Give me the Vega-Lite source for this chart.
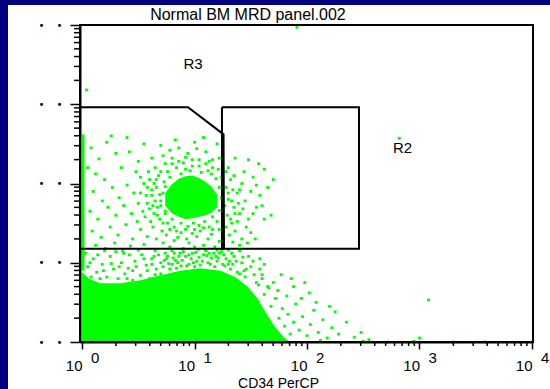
{
  "$schema": "https://vega.github.io/schema/vega-lite/v6.json",
  "autosize": {"type": "none"},
  "width": 453,
  "height": 317,
  "padding": {"left": 80, "top": 25, "right": 17, "bottom": 47},
  "background": "#000080",
  "config": {"view": {"stroke": null}, "font": "Liberation Sans", "axis": {"labelOverlap": false}},
  "datasets": {
    "blob": [
      {"x": 0.0, "top": 0.88}, {"x": 0.06, "top": 0.8}, {"x": 0.16, "top": 0.74}, {"x": 0.34, "top": 0.74},
      {"x": 0.52, "top": 0.78}, {"x": 0.69, "top": 0.84}, {"x": 0.87, "top": 0.9}, {"x": 1.05, "top": 0.93},
      {"x": 1.23, "top": 0.9}, {"x": 1.36, "top": 0.82}, {"x": 1.47, "top": 0.7}, {"x": 1.56, "top": 0.55},
      {"x": 1.63, "top": 0.38}, {"x": 1.71, "top": 0.2}, {"x": 1.8, "top": 0.05}, {"x": 1.85, "top": 0.0}
    ],
    "core": [
      {"x": 0.74, "hi": 1.88, "lo": 1.72}, {"x": 0.8, "hi": 1.99, "lo": 1.62}, {"x": 0.86, "hi": 2.06, "lo": 1.58},
      {"x": 0.92, "hi": 2.09, "lo": 1.55}, {"x": 0.98, "hi": 2.1, "lo": 1.56}, {"x": 1.04, "hi": 2.07, "lo": 1.58},
      {"x": 1.1, "hi": 2.02, "lo": 1.6}, {"x": 1.15, "hi": 1.96, "lo": 1.63}, {"x": 1.2, "hi": 1.86, "lo": 1.7}
    ],
    "streak": [{"x": 0.0, "x2": 0.022, "y": 0.9, "y2": 2.62}],
    "minors": [
      {"v":0.30103},{"v":0.47712},{"v":0.60206},{"v":0.69897},{"v":0.77815},{"v":0.8451},{"v":0.90309},{"v":0.95424},
      {"v":1.30103},{"v":1.47712},{"v":1.60206},{"v":1.69897},{"v":1.77815},{"v":1.8451},{"v":1.90309},{"v":1.95424},
      {"v":2.30103},{"v":2.47712},{"v":2.60206},{"v":2.69897},{"v":2.77815},{"v":2.8451},{"v":2.90309},{"v":2.95424},
      {"v":3.30103},{"v":3.47712},{"v":3.60206},{"v":3.69897},{"v":3.77815},{"v":3.8451},{"v":3.90309},{"v":3.95424}
    ],
    "dots": [
      {"x":0.08,"y":2.45},{"x":0.15,"y":2.31},{"x":0.22,"y":2.52},{"x":0.3,"y":2.38},{"x":0.12,"y":2.12},{"x":0.2,"y":2.05},{"x":0.35,"y":2.2},{"x":0.42,"y":2.4},{"x":0.5,"y":2.28},{"x":0.55,"y":2.5},{"x":0.1,"y":1.9},{"x":0.18,"y":1.78},{"x":0.27,"y":1.95},{"x":0.33,"y":1.82},{"x":0.4,"y":1.98},{"x":0.46,"y":1.88},{"x":0.52,"y":2.08},{"x":0.58,"y":1.95},{"x":0.07,"y":1.65},{"x":0.14,"y":1.55},{"x":0.23,"y":1.7},{"x":0.3,"y":1.6},{"x":0.37,"y":1.72},{"x":0.44,"y":1.62},{"x":0.5,"y":1.75},{"x":0.56,"y":1.58},{"x":0.6,"y":1.68},{"x":0.09,"y":1.4},{"x":0.17,"y":1.32},{"x":0.25,"y":1.45},{"x":0.32,"y":1.35},{"x":0.39,"y":1.48},{"x":0.45,"y":1.3},{"x":0.52,"y":1.42},{"x":0.58,"y":1.33},{"x":0.12,"y":1.22},{"x":0.21,"y":1.18},{"x":0.29,"y":1.25},{"x":0.36,"y":1.15},{"x":0.43,"y":1.21},{"x":0.49,"y":1.52},{"x":0.55,"y":1.23},{"x":0.62,"y":2.32},{"x":0.05,"y":2.2},{"x":0.26,"y":2.6},{"x":0.4,"y":2.58},{"x":0.48,"y":2.15},
      {"x":0.65,"y":2.2},{"x":0.72,"y":2.35},{"x":0.8,"y":2.25},{"x":0.86,"y":2.45},{"x":0.92,"y":2.18},{"x":0.98,"y":2.3},{"x":1.04,"y":2.22},{"x":1.1,"y":2.4},{"x":1.16,"y":2.2},{"x":1.22,"y":2.32},{"x":1.28,"y":2.15},{"x":0.76,"y":2.15},{"x":0.88,"y":2.12},{"x":1.0,"y":2.52},{"x":1.06,"y":2.14},{"x":1.13,"y":2.28},{"x":0.7,"y":2.48},{"x":0.94,"y":2.38},{"x":1.2,"y":2.5},{"x":0.83,"y":2.55},{"x":1.08,"y":2.58},{"x":0.68,"y":2.1},{"x":1.25,"y":2.25},{"x":0.9,"y":2.26},{"x":1.02,"y":2.44},{"x":0.78,"y":2.42},{"x":1.15,"y":2.12},
      {"x":0.84,"y":2.2},{"x":0.96,"y":2.16},{"x":1.12,"y":2.16},{"x":1.19,"y":2.06},{"x":1.22,"y":1.95},{"x":1.18,"y":1.78},{"x":1.22,"y":1.66},{"x":1.16,"y":1.58},{"x":1.09,"y":1.52},{"x":0.99,"y":1.5},{"x":0.88,"y":1.5},{"x":0.8,"y":1.55},{"x":0.74,"y":1.62},{"x":0.7,"y":1.72},{"x":0.69,"y":1.86},{"x":0.74,"y":1.96},{"x":0.78,"y":2.08},{"x":0.65,"y":1.78},{"x":0.82,"y":1.45},{"x":0.94,"y":1.46},{"x":1.04,"y":1.47},{"x":1.13,"y":1.45},{"x":1.2,"y":1.52},{"x":0.76,"y":1.5},{"x":0.64,"y":2.0},{"x":1.24,"y":1.82},
      {"x":0.58,"y":1.75},{"x":0.62,"y":1.92},{"x":0.66,"y":2.05},{"x":0.7,"y":2.15},{"x":0.74,"y":2.25},{"x":0.8,"y":2.32},{"x":0.86,"y":2.28},{"x":0.92,"y":2.33},{"x":0.98,"y":2.22},{"x":1.04,"y":2.3},{"x":1.1,"y":2.25},{"x":1.16,"y":2.3},{"x":1.21,"y":2.18},{"x":1.24,"y":2.08},{"x":1.3,"y":1.88},{"x":1.33,"y":1.78},{"x":1.36,"y":1.62},{"x":1.32,"y":1.55},{"x":1.28,"y":1.45},{"x":1.22,"y":1.42},{"x":1.16,"y":1.42},{"x":1.08,"y":1.44},{"x":1.0,"y":1.42},{"x":0.92,"y":1.42},{"x":0.84,"y":1.4},{"x":0.78,"y":1.42},{"x":0.72,"y":1.5},{"x":0.67,"y":1.6},{"x":0.63,"y":1.72},{"x":0.57,"y":1.85},{"x":0.55,"y":2.0},{"x":0.59,"y":2.15},{"x":0.54,"y":1.65},{"x":0.52,"y":1.88},
      {"x":1.35,"y":2.1},{"x":1.4,"y":1.92},{"x":1.43,"y":1.68},{"x":1.38,"y":1.52},{"x":1.46,"y":1.45},{"x":1.52,"y":1.62},{"x":1.55,"y":1.98},{"x":1.6,"y":1.72},{"x":1.68,"y":1.6},{"x":1.7,"y":2.05},{"x":1.62,"y":2.18},{"x":1.48,"y":2.3},{"x":1.36,"y":2.32},{"x":1.4,"y":1.22},{"x":1.54,"y":1.3},{"x":1.34,"y":1.26},
      {"x":0.62,"y":1.85},{"x":0.66,"y":1.95},{"x":0.7,"y":1.78},{"x":0.64,"y":1.62},{"x":0.69,"y":1.55},{"x":0.73,"y":2.02},{"x":0.6,"y":2.05},{"x":0.67,"y":1.7},{"x":0.63,"y":1.45},{"x":0.71,"y":1.4},{"x":0.74,"y":1.65},{"x":0.66,"y":1.3},{"x":0.61,"y":1.52},{"x":0.72,"y":1.88},
      {"x":1.28,"y":1.95},{"x":1.3,"y":1.8},{"x":1.32,"y":2.05},{"x":1.35,"y":1.7},{"x":1.29,"y":1.6},{"x":1.38,"y":1.88},{"x":1.42,"y":2.0},{"x":1.33,"y":1.5},{"x":1.4,"y":1.62},{"x":1.45,"y":1.78},{"x":1.5,"y":1.9},{"x":1.36,"y":1.4},{"x":1.48,"y":1.55},{"x":1.55,"y":1.7},{"x":1.3,"y":2.2},{"x":1.44,"y":2.15},{"x":1.52,"y":2.08},{"x":1.58,"y":1.85},{"x":1.31,"y":1.35},{"x":1.42,"y":1.3},{"x":1.5,"y":1.38},{"x":1.62,"y":1.55},{"x":1.27,"y":1.72},{"x":1.34,"y":1.92},{"x":1.39,"y":1.75},{"x":1.57,"y":2.25},{"x":1.65,"y":1.95},{"x":1.47,"y":1.25},
      {"x":0.75,"y":1.35},{"x":0.82,"y":1.28},{"x":0.88,"y":1.38},{"x":0.95,"y":1.25},{"x":1.02,"y":1.33},{"x":1.08,"y":1.22},{"x":1.15,"y":1.36},{"x":1.22,"y":1.27},{"x":0.78,"y":1.2},{"x":0.9,"y":1.18},{"x":1.0,"y":1.2},{"x":1.12,"y":1.3},{"x":1.18,"y":1.2},{"x":0.85,"y":1.32},{"x":0.98,"y":1.37},{"x":1.05,"y":1.4},{"x":1.25,"y":1.38},{"x":0.72,"y":1.25},{"x":0.93,"y":1.3},{"x":1.1,"y":1.16},
      {"x":0.05,"y":0.95},{"x":0.1,"y":1.05},{"x":0.13,"y":0.88},{"x":0.18,"y":0.98},{"x":0.22,"y":0.82},{"x":0.25,"y":1.08},{"x":0.28,"y":0.92},{"x":0.32,"y":0.8},{"x":0.35,"y":1.0},{"x":0.38,"y":0.86},{"x":0.42,"y":1.1},{"x":0.45,"y":0.78},{"x":0.48,"y":0.95},{"x":0.52,"y":0.84},{"x":0.55,"y":1.05},{"x":0.58,"y":0.9},{"x":0.62,"y":0.98},{"x":0.65,"y":0.85},{"x":0.68,"y":1.1},{"x":0.72,"y":0.95},{"x":0.75,"y":1.05},{"x":0.78,"y":0.92},{"x":0.82,"y":1.12},{"x":0.85,"y":1.0},{"x":0.88,"y":0.96},{"x":0.92,"y":1.08},{"x":0.95,"y":0.98},{"x":0.98,"y":1.12},{"x":1.02,"y":1.02},{"x":1.05,"y":0.97},{"x":1.08,"y":1.1},{"x":1.12,"y":1.0},{"x":1.15,"y":1.06},{"x":1.18,"y":0.95},{"x":1.22,"y":1.12},{"x":1.25,"y":0.98},{"x":1.28,"y":1.05},{"x":1.32,"y":0.92},{"x":1.35,"y":1.08},{"x":1.38,"y":0.88},{"x":1.42,"y":1.0},{"x":1.45,"y":0.82},{"x":1.5,"y":0.95},{"x":1.55,"y":0.75},{"x":0.08,"y":0.82},{"x":0.16,"y":0.8},{"x":0.3,"y":1.14},{"x":0.4,"y":0.8},{"x":0.6,"y":0.8},{"x":0.7,"y":0.86},{"x":0.9,"y":1.14},{"x":1.0,"y":0.95},{"x":1.1,"y":1.15},{"x":1.2,"y":1.02},{"x":1.4,"y":1.15},{"x":1.48,"y":1.08},{"x":0.2,"y":1.15},{"x":0.5,"y":1.16},{"x":0.8,"y":0.98},{"x":1.3,"y":1.16},{"x":1.6,"y":0.85},{"x":1.58,"y":1.05},{"x":1.65,"y":0.7},{"x":0.03,"y":1.12},{"x":0.45,"y":0.9},{"x":0.65,"y":1.15},
      {"x":0.62,"y":1.05},{"x":0.66,"y":0.92},{"x":0.74,"y":1.12},{"x":0.77,"y":0.99},{"x":0.81,"y":1.06},{"x":0.84,"y":0.93},{"x":0.89,"y":1.03},{"x":0.93,"y":0.96},{"x":0.97,"y":1.05},{"x":1.01,"y":1.13},{"x":1.04,"y":1.07},{"x":1.07,"y":1.02},{"x":1.11,"y":1.09},{"x":1.14,"y":0.98},{"x":1.17,"y":1.12},{"x":1.21,"y":1.06},{"x":1.24,"y":1.14},{"x":1.27,"y":0.96},{"x":1.31,"y":1.02},{"x":1.34,"y":0.98},{"x":0.7,"y":1.0},{"x":0.86,"y":1.08},{"x":0.99,"y":1.0},{"x":1.19,"y":1.08},
      {"x":0.76,"y":1.08},{"x":0.8,"y":1.15},{"x":0.87,"y":1.12},{"x":0.95,"y":1.1},{"x":1.03,"y":1.17},{"x":1.13,"y":1.12},{"x":1.2,"y":1.16},{"x":1.26,"y":1.1},{"x":1.33,"y":1.12},{"x":1.37,"y":1.02},{"x":1.43,"y":1.07},{"x":1.46,"y":0.92},{"x":1.52,"y":1.02},{"x":1.53,"y":0.85},{"x":1.58,"y":0.92},{"x":1.62,"y":0.98},{"x":1.44,"y":0.9},{"x":1.4,"y":0.86},{"x":1.3,"y":0.98},{"x":0.83,"y":1.03},{"x":0.73,"y":1.03},{"x":0.64,"y":1.08},{"x":0.57,"y":0.97},{"x":0.53,"y":1.1},{"x":0.47,"y":1.02},{"x":0.41,"y":0.93},{"x":0.37,"y":1.12},{"x":0.33,"y":0.95},{"x":0.26,"y":0.99},{"x":0.19,"y":0.9},{"x":0.14,"y":1.1},{"x":0.07,"y":1.0},
      {"x":1.62,"y":0.6},{"x":1.68,"y":0.45},{"x":1.72,"y":0.55},{"x":1.75,"y":0.3},{"x":1.78,"y":0.42},{"x":1.8,"y":0.2},{"x":1.83,"y":0.35},{"x":1.85,"y":0.1},{"x":1.88,"y":0.25},{"x":1.9,"y":0.48},{"x":1.93,"y":0.15},{"x":1.96,"y":0.32},{"x":2.0,"y":0.08},{"x":2.03,"y":0.22},{"x":2.06,"y":0.4},{"x":2.1,"y":0.12},{"x":2.14,"y":0.28},{"x":2.18,"y":0.05},{"x":2.22,"y":0.18},{"x":2.28,"y":0.1},{"x":2.35,"y":0.25},{"x":2.42,"y":0.06},{"x":1.7,"y":0.75},{"x":1.66,"y":0.68},{"x":1.74,"y":0.65},{"x":1.82,"y":0.58},{"x":1.88,"y":0.7},{"x":1.95,"y":0.55},{"x":2.02,"y":0.62},{"x":1.6,"y":0.8},{"x":1.57,"y":0.72},{"x":2.08,"y":0.5},{"x":2.25,"y":0.38},{"x":1.98,"y":0.75},{"x":2.12,"y":0.02},{"x":2.48,"y":0.12},{"x":2.55,"y":0.03},{"x":1.86,"y":0.8},{"x":1.77,"y":0.85},{"x":2.2,"y":0.45},
      {"x":2.5,"y":0.01},{"x":2.72,"y":0.0},{"x":2.95,"y":0.01},{"x":3.3,"y":0.0},{"x":3.58,"y":0.0},
      {"x":1.91,"y":3.97},{"x":0.04,"y":3.18},{"x":2.82,"y":2.57},{"x":3.08,"y":0.53},{"x":3.0,"y":0.05}
    ],
    "gates": [
      {"gate": "R3", "o": 1, "x": -0.018, "y": 2.962}, {"gate": "R3", "o": 2, "x": 0.942, "y": 2.962},
      {"gate": "R3", "o": 3, "x": 1.258, "y": 2.62}, {"gate": "R3", "o": 4, "x": 1.262, "y": 1.177},
      {"gate": "R3", "o": 5, "x": -0.018, "y": 1.177},
      {"gate": "R2", "o": 1, "x": 1.244, "y": 2.962}, {"gate": "R2", "o": 2, "x": 2.462, "y": 2.962},
      {"gate": "R2", "o": 3, "x": 2.462, "y": 1.177}, {"gate": "R2", "o": 4, "x": 1.244, "y": 1.177},
      {"gate": "R2", "o": 5, "x": 1.244, "y": 2.962}
    ],
    "labels": [{"label": "R3", "x": 0.987, "y": 3.443}, {"label": "R2", "x": 2.849, "y": 2.38}],
    "heading": [{"text": "Normal BM MRD panel.002", "x": 1.475, "y": 4.063}],
    "exps": [{"e": 0}, {"e": 1}, {"e": 2}, {"e": 3}, {"e": 4}]
  },
  "layer": [
    {
      "data": {"values": [{}]},
      "mark": {"type": "rect", "fill": "white"},
      "encoding": {
        "x": {"datum": -0.658, "type": "quantitative", "scale": {"domain": [-0.018, 4.009], "nice": false, "zero": false}},
        "x2": {"datum": 5},
        "y": {"datum": -1, "type": "quantitative", "scale": {"domain": [0, 4], "nice": false, "zero": false}},
        "y2": {"datum": 4.253}
      }
    },
    {
      "data": {"name": "blob"},
      "mark": {"type": "area", "color": "#00ff00", "opacity": 1, "interpolate": "linear"},
      "encoding": {
        "x": {"field": "x", "type": "quantitative"},
        "y": {"field": "top", "type": "quantitative"},
        "y2": {"datum": 0}
      }
    },
    {
      "data": {"name": "core"},
      "mark": {"type": "area", "color": "#00ff00", "opacity": 1, "interpolate": "linear"},
      "encoding": {
        "x": {"field": "x", "type": "quantitative"},
        "y": {"field": "hi", "type": "quantitative"},
        "y2": {"field": "lo"}
      }
    },
    {
      "data": {"name": "streak"},
      "mark": {"type": "rect", "color": "#00ff00"},
      "encoding": {
        "x": {"field": "x", "type": "quantitative"},
        "x2": {"field": "x2"},
        "y": {"field": "y", "type": "quantitative"},
        "y2": {"field": "y2"}
      }
    },
    {
      "data": {"name": "dots"},
      "mark": {"type": "point", "shape": "square", "filled": true, "size": 8, "color": "#00ff00", "opacity": 1},
      "encoding": {
        "x": {
          "field": "x", "type": "quantitative",
          "scale": {"domain": [-0.018, 4.009], "nice": false, "zero": false},
          "axis": {
            "values": [0, 1, 2, 3, 4],
            "labelExpr": "'10'",
            "labelAlign": "right", "labelBaseline": "alphabetic", "labelFont": "Liberation Sans", "labelFontSize": 15, "labelColor": "black",
            "labelPadding": 21, "labelOverlap": false, "labelFlush": false,
            "tickSize": 7, "tickColor": "black", "tickWidth": 1.5,
            "domainColor": "black", "domainWidth": 2, "grid": false,
            "title": "CD34 PerCP", "titleFont": "Liberation Sans", "titleFontSize": 14, "titleFontWeight": "normal", "titleColor": "black",
            "titleX": 198, "titleY": 45, "titleBaseline": "alphabetic", "titleAlign": "center",
            "zindex": 2
          }
        },
        "y": {
          "field": "y", "type": "quantitative",
          "scale": {"domain": [0, 4], "nice": false, "zero": false},
          "axis": {
            "values": [0, 1, 2, 3, 4],
            "labelExpr": "'\u2022\u00a0\u00a0\u2022'",
            "labelAlign": "right", "labelBaseline": "middle", "labelFont": "DejaVu Sans Mono", "labelFontSize": 10, "labelColor": "black",
            "labelPadding": 8, "labelOverlap": false, "labelFlush": false,
            "tickSize": 10, "tickColor": "black", "tickWidth": 1.5,
            "domainColor": "black", "domainWidth": 2, "grid": false,
            "title": null,
            "zindex": 2
          }
        }
      }
    },
    {
      "data": {"name": "minors"},
      "mark": {"type": "rule", "color": "black", "strokeWidth": 1.5},
      "encoding": {
        "x": {"field": "v", "type": "quantitative"},
        "y": {"datum": 0, "type": "quantitative"},
        "y2": {"datum": -0.05}
      }
    },
    {
      "data": {"name": "minors"},
      "mark": {"type": "rule", "color": "black", "strokeWidth": 1.5},
      "encoding": {
        "y": {"field": "v", "type": "quantitative"},
        "x": {"datum": -0.018, "type": "quantitative"},
        "x2": {"datum": -0.071}
      }
    },
    {
      "data": {"name": "gates"},
      "mark": {"type": "line", "color": "black", "strokeWidth": 2},
      "encoding": {
        "x": {"field": "x", "type": "quantitative"},
        "y": {"field": "y", "type": "quantitative"},
        "detail": {"field": "gate"},
        "order": {"field": "o"}
      }
    },
    {
      "data": {"values": [{}]},
      "mark": {"type": "rect", "fillOpacity": 0, "stroke": "black", "strokeWidth": 2},
      "encoding": {
        "x": {"datum": -0.018, "type": "quantitative"},
        "x2": {"datum": 4.009},
        "y": {"datum": 0, "type": "quantitative"},
        "y2": {"datum": 4}
      }
    },
    {
      "data": {"name": "labels"},
      "mark": {"type": "text", "font": "Liberation Sans", "fontSize": 15, "color": "black", "align": "center", "baseline": "alphabetic"},
      "encoding": {
        "x": {"field": "x", "type": "quantitative"},
        "y": {"field": "y", "type": "quantitative"},
        "text": {"field": "label"}
      }
    },
    {
      "data": {"name": "heading"},
      "mark": {"type": "text", "font": "Liberation Sans", "fontSize": 16, "color": "black", "align": "center", "baseline": "alphabetic"},
      "encoding": {
        "x": {"field": "x", "type": "quantitative"},
        "y": {"field": "y", "type": "quantitative"},
        "text": {"field": "text"}
      }
    },
    {
      "data": {"name": "exps"},
      "mark": {"type": "text", "font": "Liberation Sans", "fontSize": 15, "color": "black", "align": "left", "baseline": "alphabetic", "dx": 9},
      "encoding": {
        "x": {"field": "e", "type": "quantitative"},
        "y": {"datum": -0.265, "type": "quantitative"},
        "text": {"field": "e", "type": "nominal"}
      }
    }
  ]
}
